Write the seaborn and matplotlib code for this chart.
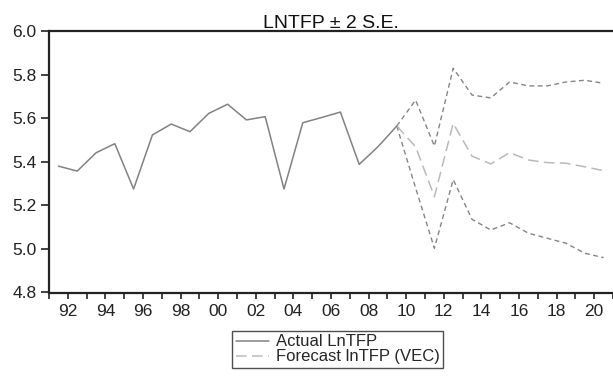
import numpy as np
import pandas as pd
import matplotlib
matplotlib.use("Agg")
import matplotlib.pyplot as plt
import seaborn as sns

# ---- data ----
years_actual = list(range(1991, 2010))
actual = [5.380, 5.357, 5.441, 5.483, 5.275, 5.523, 5.573, 5.538, 5.622, 5.664,
          5.592, 5.607, 5.275, 5.579, 5.603, 5.628, 5.388, 5.469, 5.564]

years_fc = list(range(2009, 2021))
forecast = [5.564, 5.469, 5.240, 5.576, 5.426, 5.390, 5.442, 5.408, 5.396, 5.393, 5.377, 5.359]
upper = [5.564, 5.683, 5.472, 5.829, 5.706, 5.693, 5.766, 5.748, 5.748, 5.766, 5.774, 5.760]
lower = [5.564, 5.280, 5.003, 5.318, 5.136, 5.087, 5.120, 5.072, 5.049, 5.026, 4.980, 4.960]

title = "LNTFP \u00b1 2 S.E."
label_actual = "Actual LnTFP"
label_fc = "Forecast lnTFP (VEC)"
yticks = [4.8, 5.0, 5.2, 5.4, 5.6, 5.8, 6.0]
xtick_years = list(range(1991, 2022))
xlabel_years = list(range(1992, 2021, 2))

sns.set_style("white")
plt.rcParams['font.family'] = ['Liberation Sans', 'DejaVu Sans']

df_a = pd.DataFrame({"t": np.array(years_actual) + 0.5, "v": actual})
df_f = pd.DataFrame({"t": np.array(years_fc) + 0.5, "f": forecast, "u": upper, "l": lower})

fig = plt.figure(figsize=(6.13, 3.79), dpi=100)
ax = fig.add_axes([49 / 613, 1 - 292.5 / 379, 1 - 49 / 613, (292.5 - 31) / 379])

band_c = "#858585"
sns.lineplot(data=df_f, x="t", y="u", ax=ax, color=band_c, lw=1.0, linestyle=(0, (3.5, 2.5)))
sns.lineplot(data=df_f, x="t", y="l", ax=ax, color=band_c, lw=1.0, linestyle=(0, (3.5, 2.5)))
sns.lineplot(data=df_f, x="t", y="f", ax=ax, color="#bababa", lw=1.1,
             linestyle=(0, (7, 3.5)), label=label_fc)
sns.lineplot(data=df_a, x="t", y="v", ax=ax, color="#828282", lw=1.1, label=label_actual)

ax.set_xlim(1991, 2021)
ax.set_ylim(4.8, 6.0)
ax.set_yticks(yticks)
ax.set_yticklabels([f"{v:.1f}" for v in yticks])
ax.set_xticks(xtick_years)
ax.set_xticklabels([f"{y % 100:02d}" if y in xlabel_years else "" for y in xtick_years])
ax.set_xlabel("")
ax.set_ylabel("")
ax.tick_params(axis="both", direction="out", width=1.2, colors="#222222", labelsize=12.5)
ax.tick_params(axis="x", bottom=True, length=4.5, pad=4)
ax.tick_params(axis="y", left=True, length=6, pad=3)
for s in ["left", "top", "bottom"]:
    ax.spines[s].set_color("#222222")
    ax.spines[s].set_linewidth(1.6)
ax.spines["right"].set_visible(False)
ax.set_title(title, fontsize=14, color="#111111", pad=2)

handles, labels = ax.get_legend_handles_labels()
order = [labels.index(label_actual), labels.index(label_fc)]
leg = ax.legend([handles[i] for i in order], [labels[i] for i in order],
                loc="upper center", bbox_to_anchor=(337.5 / 613, 1 - 331 / 379),
                bbox_transform=fig.transFigure, fontsize=12, frameon=True,
                fancybox=False, edgecolor="#222222", handlelength=2.0,
                handletextpad=0.4, borderpad=0.2, labelspacing=0.0,
                borderaxespad=0)
leg.get_frame().set_linewidth(1.0)

fig.savefig("out.png", dpi=100)
